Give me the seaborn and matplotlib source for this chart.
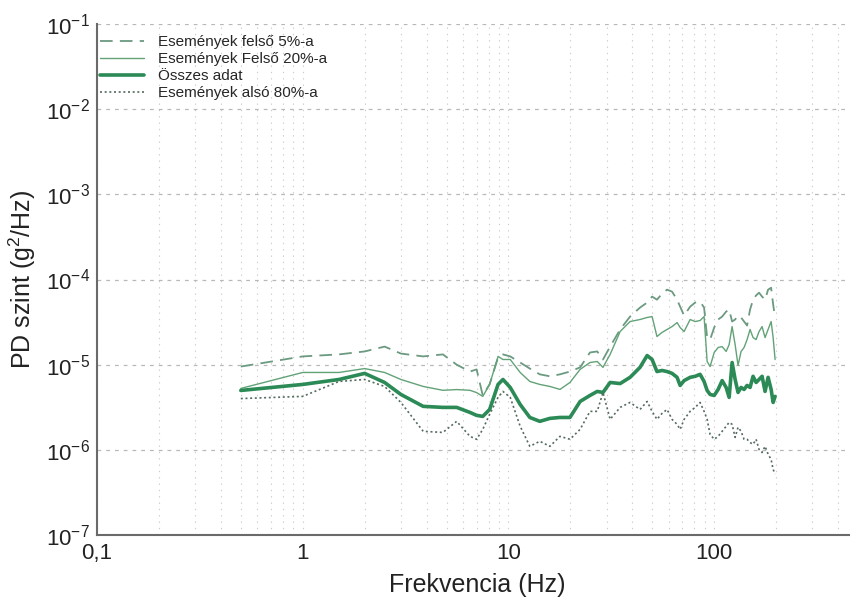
import numpy as np
import pandas as pd
import seaborn as sns
import matplotlib
matplotlib.use("Agg")
import matplotlib.pyplot as plt
from matplotlib.ticker import LogLocator, FixedLocator, FixedFormatter, NullLocator, NullFormatter

# Frequency grid (Hz)
freq = [0.5, 1.0, 1.5, 2.0, 2.5, 3.0, 3.85, 4.8, 5.6, 6.5, 7.0, 7.5, 8.1, 8.9, 9.4,
        10.2, 11.4, 12.7, 14.2, 15.9, 17.8, 19.9, 22.3, 24.9, 27.0, 28.8, 31.2, 34.9,
        39.0, 43.6, 47.2, 49.9, 52.7, 55.8, 59.0, 62.4, 66.0, 68.3, 71.4, 76.4, 80.8,
        85.4, 89.3, 92.4, 95.5, 100.0, 104.5, 109.3, 114.3, 118.2, 122.2, 126.4, 130.6,
        135.1, 139.7, 144.5, 149.4, 154.5, 159.8, 165.2, 170.9, 176.7, 182.8, 189.1,
        193.4, 197.7]

# PSD level (g^2/Hz) – upper 5% of events
top5 = [9.5e-6, 1.25e-5, 1.32e-5, 1.43e-5, 1.63e-5, 1.35e-5, 1.25e-5, 1.32e-5, 1.0e-5,
        8.3e-6, 8.8e-6, 4.35e-6, 5.9e-6, 1.21e-5, 1.32e-5, 1.25e-5, 1.06e-5, 9.0e-6,
        7.7e-6, 7.3e-6, 7.7e-6, 8.3e-6, 9.3e-6, 1.39e-5, 1.43e-5, 1.15e-5, 1.63e-5,
        2.59e-5, 3.67e-5, 4.68e-5, 5.36e-5, 6.3e-5, 5.8e-5, 6.8e-5, 7.6e-5, 7.2e-5,
        5.8e-5, 4.8e-5, 3.77e-5, 4.8e-5, 5.36e-5, 5.5e-5, 4.68e-5, 2.08e-5, 1.97e-5,
        2.73e-5, 3.39e-5, 3.67e-5, 4.2e-5, 4.44e-5, 3.21e-5, 3.39e-5, 3.77e-5, 3.58e-5,
        3.21e-5, 2.88e-5, 4.44e-5, 5.8e-5, 6.5e-5, 7.0e-5, 6.3e-5, 5.8e-5, 7.6e-5,
        8.0e-5, 5.1e-5, 3.58e-5]

# upper 20% of events
top20 = [5.26e-6, 8.1e-6, 8.1e-6, 9.0e-6, 8.1e-6, 6.7e-6, 5.55e-6, 5.0e-6, 5.1e-6,
         5.0e-6, 4.7e-6, 4.24e-6, 5.86e-6, 1.25e-5, 1.15e-5, 1.15e-5, 8.1e-6, 6.35e-6,
         5.86e-6, 5.55e-6, 5.12e-6, 6.18e-6, 8.8e-6, 1.06e-5, 1.09e-5, 9.3e-6, 1.32e-5,
         2.45e-5, 3.21e-5, 3.39e-5, 3.58e-5, 3.67e-5, 2.14e-5, 2.39e-5, 2.59e-5, 2.8e-5,
         3.12e-5, 2.73e-5, 2.45e-5, 3.39e-5, 3.21e-5, 3.3e-5, 3.67e-5, 1.09e-5, 9.5e-6,
         1.39e-5, 1.59e-5, 1.63e-5, 1.43e-5, 1.72e-5, 2.8e-5, 1.72e-5, 9.8e-6, 1.43e-5,
         1.59e-5, 1.97e-5, 2.59e-5, 2.08e-5, 1.97e-5, 2.45e-5, 2.8e-5, 2.08e-5, 2.59e-5,
         3.21e-5, 2.08e-5, 1.15e-5]

# all data
alldata = [4.98e-6, 5.86e-6, 6.7e-6, 7.9e-6, 6.18e-6, 4.47e-6, 3.24e-6, 3.15e-6, 3.15e-6,
           2.75e-6, 2.54e-6, 2.47e-6, 2.98e-6, 5.86e-6, 6.7e-6, 5.4e-6, 3.41e-6, 2.4e-6,
           2.16e-6, 2.34e-6, 2.4e-6, 2.4e-6, 3.7e-6, 4.35e-6, 4.85e-6, 4.72e-6, 6.18e-6,
           6.0e-6, 7.1e-6, 9.3e-6, 1.28e-5, 1.15e-5, 8.3e-6, 8.55e-6, 8.3e-6, 7.9e-6,
           7.1e-6, 5.7e-6, 6.5e-6, 7.1e-6, 7.3e-6, 7.7e-6, 6.35e-6, 4.98e-6, 4.47e-6,
           4.35e-6, 5.12e-6, 6.5e-6, 5.4e-6, 4.13e-6, 1.06e-5, 6.7e-6, 4.72e-6, 5.4e-6,
           5.12e-6, 5.7e-6, 5.4e-6, 7.3e-6, 6.18e-6, 6.7e-6, 7.3e-6, 4.85e-6, 7.1e-6,
           5.12e-6, 3.6e-6, 4.24e-6]

# lower 80% of events
low80 = [4.0e-6, 4.24e-6, 6.35e-6, 6.7e-6, 5.55e-6, 3.6e-6, 1.65e-6, 1.6e-6, 2.16e-6,
         1.44e-6, 1.33e-6, 1.74e-6, 2.61e-6, 4.13e-6, 4.85e-6, 4.13e-6, 1.89e-6, 1.1e-6,
         1.26e-6, 1.1e-6, 1.44e-6, 1.33e-6, 1.74e-6, 2.83e-6, 2.83e-6, 4.72e-6, 2.28e-6,
         3.15e-6, 3.6e-6, 2.98e-6, 3.7e-6, 2.83e-6, 2.28e-6, 2.68e-6, 2.98e-6, 2.28e-6,
         1.99e-6, 1.74e-6, 2.28e-6, 2.83e-6, 3.15e-6, 3.6e-6, 2.83e-6, 2.28e-6, 1.52e-6,
         1.33e-6, 1.44e-6, 1.65e-6, 1.89e-6, 2.1e-6, 1.99e-6, 1.4e-6, 1.84e-6, 1.65e-6,
         1.33e-6, 1.33e-6, 1.22e-6, 1.16e-6, 1.33e-6, 1.01e-6, 9.3e-7, 1.1e-6, 8.9e-7,
         7.7e-7, 5.9e-7, 5.2e-7]

labels = ["Események felső 5%-a", "Események Felső 20%-a", "Összes adat",
          "Események alsó 80%-a"]
x_tick_vals = [0.1, 1, 10, 100]
x_tick_text = ["0,1", "1", "10", "100"]

sns.set_theme(style="white")
plt.rcParams["font.family"] = ["Liberation Sans", "DejaVu Sans"]
plt.rcParams["mathtext.fontset"] = "custom"
plt.rcParams["mathtext.rm"] = "Liberation Sans"
plt.rcParams["mathtext.it"] = "Liberation Sans:italic"
plt.rcParams["mathtext.bf"] = "Liberation Sans:bold"

fig = plt.figure(figsize=(8.5, 6.04), dpi=100)
ax = fig.add_axes([97 / 850, 69 / 604, 761 / 850, 511 / 604])

styles = [
    dict(color="#6b9a80", lw=1.3, ls=(0, (7, 4))),
    dict(color="#62a277", lw=1.0, ls="-"),
    dict(color="#2b8a55", lw=2.6, ls="-"),
    dict(color="#556b5d", lw=1.2, ls=(0, (1.2, 1.6))),
]
series = [top5, top20, alldata, low80]
for vals, lab, st in zip(series, labels, styles):
    df = pd.DataFrame({"f": freq, "psd": vals})
    sns.lineplot(data=df, x="f", y="psd", ax=ax, label=lab, color=st["color"],
                 linewidth=st["lw"], linestyle=st["ls"], estimator=None, sort=False)

ax.set_xscale("log")
ax.set_yscale("log")
ax.set_xlim(0.1, 500)
ax.set_ylim(1e-7, 1e-1)

ax.xaxis.set_major_locator(FixedLocator(x_tick_vals))
ax.xaxis.set_major_formatter(FixedFormatter(x_tick_text))
ax.xaxis.set_minor_locator(LogLocator(base=10, subs=np.arange(2, 10)))
ax.xaxis.set_minor_formatter(NullFormatter())
ax.yaxis.set_major_locator(LogLocator(base=10, numticks=10))
ax.yaxis.set_minor_locator(NullLocator())

ax.grid(which="both", axis="x", color="#cccccc", linestyle=(0, (1.2, 4.5)), linewidth=0.8)
ax.grid(which="major", axis="y", color="#b8b8b8", linestyle=(0, (3, 4)), linewidth=0.9)

for side in ["top", "right"]:
    ax.spines[side].set_visible(False)
for side in ["left", "bottom"]:
    ax.spines[side].set_color("#6a6a6a")
    ax.spines[side].set_linewidth(1.5)

ax.tick_params(axis="both", which="major", direction="inout", length=6, width=1,
               color="#6a6a6a", labelsize=16, labelcolor="#222222", pad=2)
ax.tick_params(axis="x", which="minor", direction="inout", length=4, width=1,
               color="#6a6a6a")
ax.tick_params(axis="x", which="major", pad=3)

ax.set_xlabel("Frekvencia (Hz)", fontsize=18, color="#222222", labelpad=6)
ax.set_ylabel("PD szint (g$^2$/Hz)", fontsize=18, color="#222222", labelpad=6)

leg = ax.legend(loc="upper left", bbox_to_anchor=(0.004, 0.978), frameon=False,
                fontsize=11, handlelength=2.9, handletextpad=0.9, labelspacing=0.2,
                borderaxespad=0.0, borderpad=0.0)

fig.savefig("out.png", dpi=100)
